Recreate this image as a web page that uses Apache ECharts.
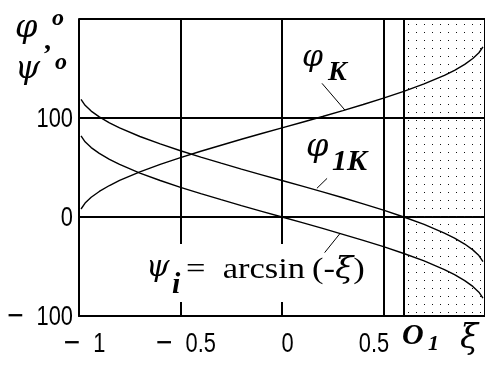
<!DOCTYPE html>
<html>
<head>
<meta charset="utf-8">
<style>
  html, body { margin: 0; padding: 0; background: #fff; }
  #chart { width: 485px; height: 365px; }
</style>
<script src="https://cdn.jsdelivr.net/npm/echarts@6/dist/echarts.min.js"></script>
</head>
<body>
<div id="chart"></div>
<script>
// ξ sample points
const xi = [-0.99, -0.97, -0.94, -0.9, -0.85, -0.8, -0.7, -0.6, -0.5, -0.4, -0.3, -0.2, -0.1, 0,
            0.1, 0.2, 0.3, 0.4, 0.5, 0.6, 0.7, 0.8, 0.85, 0.9, 0.94, 0.97, 0.99];
// ψi = arcsin(-ξ), degrees
const psiI = [81.9, 75.9, 70.1, 64.2, 58.2, 53.1, 44.4, 36.9, 30, 23.6, 17.5, 11.5, 5.7, 0,
              -5.7, -11.5, -17.5, -23.6, -30, -36.9, -44.4, -53.1, -58.2, -64.2, -70.1, -75.9, -81.9];
// φK, degrees
const phiK = [8.1, 14.1, 19.9, 25.8, 31.8, 36.9, 45.6, 53.1, 60, 66.4, 72.5, 78.5, 84.3, 90,
              95.7, 101.5, 107.5, 113.6, 120, 126.9, 134.4, 143.1, 148.2, 154.2, 160.1, 165.9, 171.9];
// φ1K, degrees
const phi1K = [118.8, 112.8, 107.0, 101.1, 95.1, 90.0, 81.3, 73.8, 66.9, 60.5, 54.4, 48.4, 42.6, 36.9,
               31.2, 25.4, 19.4, 13.3, 6.9, 0, -7.5, -16.2, -21.3, -27.3, -33.2, -39.0, -45.0];

// tick values and their printed labels
const xTicks = [-1, -0.5, 0, 0.5];
const xTickText = ['−  1', '−  0.5', '0', '0.5'];
const yTicks = [-100, 0, 100];
const yTickText = ['−  100', '0', '100'];

// point O1 on the ξ axis, start of the shaded zone
const o1 = 0.6;
const zoneEnd = 1;

// leader lines from the curve names to the curves: [ξ, value] pairs
const leaderPhiK = [[0.197, 135], [0.31, 108]];
const leaderPhi1K = [[0.222, 39], [0.172, 29]];
const leaderPsiI = [[0.286, -16.6], [0.21, -36]];

const pairs = (xs, ys) => xs.map((x, i) => [x, ys[i]]);

// dotted fill for the zone right of O1
const dots = document.createElement('canvas');
dots.width = 8; dots.height = 8;
const dctx = dots.getContext('2d');
dctx.fillStyle = '#111';
dctx.fillRect(0, 0, 1, 1);

const sans = '"Liberation Sans", Arial, sans-serif';
const serif = '"Liberation Serif", "Times New Roman", serif';
const greek = '"DejaVu Serif", serif';

function txt(text, x, y, size, opts) {
  opts = opts || {};
  const el = {
    type: 'text', x: x, y: y, z: 10,
    style: {
      text: text, fill: '#000',
      fontFamily: opts.family || serif, fontSize: size,
      fontStyle: opts.italic === false ? 'normal' : 'italic',
      fontWeight: opts.bold ? 'bold' : 'normal',
      align: opts.align || 'left', verticalAlign: 'middle'
    }
  };
  if (opts.scaleX) el.scaleX = opts.scaleX;
  return el;
}

// tick label: minus sign from DejaVu Sans (longer bar), digits in Liberation Sans
function tickLabel(text, x, y, align) {
  const rich = text.charAt(0) === '−'
    ? '{m|−}{d|' + text.slice(1) + '}'
    : '{d|' + text + '}';
  return {
    type: 'text', x: x, y: y, z: 10, scaleX: 0.78,
    style: {
      text: rich, align: align, verticalAlign: 'middle',
      rich: {
        m: { fontFamily: '"DejaVu Sans", sans-serif', fontSize: 28, color: '#000' },
        d: { fontFamily: sans, fontSize: 28, color: '#000' }
      }
    }
  };
}

const lineStyle = { color: '#000', width: 1.4 };
const leaderStyle = { color: '#000', width: 1, type: 'solid' };

const chart = echarts.init(document.getElementById('chart'), null, { renderer: 'canvas' });
chart.setOption({
  animation: false,
  backgroundColor: '#fff',
  grid: { left: 79, right: 0, top: 19, bottom: 49, containLabel: false, outerBoundsMode: 'none' },
  xAxis: {
    type: 'value', min: -1, max: 1, interval: 0.5,
    axisLine: { show: true, onZero: false, lineStyle: { color: '#000', width: 2 } },
    axisTick: { show: false },
    axisLabel: { show: false },
    splitLine: { show: true, lineStyle: { color: '#000', width: 2 } }
  },
  yAxis: {
    type: 'value', min: -100, max: 200, interval: 100,
    axisLine: { show: true, onZero: false, lineStyle: { color: '#000', width: 2 } },
    axisTick: { show: false },
    axisLabel: { show: false },
    splitLine: { show: true, lineStyle: { color: '#000', width: 2 } }
  },
  series: [
    {
      name: 'φK', type: 'line', data: pairs(xi, phiK), symbol: 'none', lineStyle: lineStyle,
      markArea: {
        silent: true,
        itemStyle: { color: { image: dots, repeat: 'repeat' } },
        data: [[{ xAxis: o1 }, { xAxis: zoneEnd }]]
      },
      markLine: {
        silent: true, symbol: 'none', label: { show: false },
        lineStyle: { color: '#000', width: 2, type: 'solid' },
        data: [
          { xAxis: o1 },
          [{ coord: leaderPhiK[0], lineStyle: leaderStyle }, { coord: leaderPhiK[1] }]
        ]
      }
    },
    {
      name: 'φ1K', type: 'line', data: pairs(xi, phi1K), symbol: 'none', lineStyle: lineStyle,
      markLine: {
        silent: true, symbol: 'none', label: { show: false }, lineStyle: leaderStyle,
        data: [[{ coord: leaderPhi1K[0] }, { coord: leaderPhi1K[1] }]]
      }
    },
    {
      name: 'ψi', type: 'line', data: pairs(xi, psiI), symbol: 'none', lineStyle: lineStyle,
      markLine: {
        silent: true, symbol: 'none', label: { show: false }, lineStyle: leaderStyle,
        data: [[{ coord: leaderPsiI[0] }, { coord: leaderPsiI[1] }]]
      }
    }
  ]
});

// Tick labels placed from the axis scales
const xLabelNudge = [5, 5, 5.5, -9.5];
const els = [];
xTicks.forEach(function (v, i) {
  const p = chart.convertToPixel({ gridIndex: 0 }, [v, -100]);
  els.push(tickLabel(xTickText[i], p[0] + xLabelNudge[i], p[1] + 28, 'center'));
});
yTicks.forEach(function (v, i) {
  const p = chart.convertToPixel({ gridIndex: 0 }, [-1, v]);
  els.push(tickLabel(yTickText[i], p[0] - 6, p[1] + 1, 'right'));
});

els.push(
  // axis names
  txt('φ', 15, 29, 32, { family: greek }),
  txt('o', 52, 19, 24, { bold: true }),
  txt(',', 44, 42, 28, { italic: false, bold: true }),
  txt('ψ', 15, 70, 32, { family: greek }),
  txt('o', 55, 63, 24, { bold: true }),
  txt('O', 402, 336, 30, { bold: true }),
  txt('1', 428, 344, 22, { bold: true }),
  txt('ξ', 460, 339, 33, { family: greek }),
  // curve names
  txt('φ', 302, 58, 30, { family: greek }),
  txt('K', 328, 73, 28, { bold: true }),
  txt('φ', 306, 148, 32, { family: greek }),
  txt('1K', 332, 162, 30, { bold: true }),
  { type: 'rect', z: 1, shape: { x: 146, y: 244, width: 226, height: 58 }, style: { fill: '#fff' } },
  txt('ψ', 146, 268, 30, { family: greek }),
  txt('i', 172, 285, 30, { bold: true }),
  {
    type: 'text', x: 186, y: 270, z: 10, scaleX: 1.15,
    style: {
      text: '{n|=  arcsin}{p|(-}{g|ξ}{n|)}',
      align: 'left', verticalAlign: 'middle',
      rich: {
        n: { fontFamily: serif, fontSize: 30, color: '#000' },
        p: { fontFamily: serif, fontSize: 30, color: '#000', padding: [0, 0, 0, 6] },
        g: { fontFamily: greek, fontSize: 29, fontStyle: 'italic', color: '#000' }
      }
    }
  }
);

chart.setOption({ graphic: els });
</script>
</body>
</html>
